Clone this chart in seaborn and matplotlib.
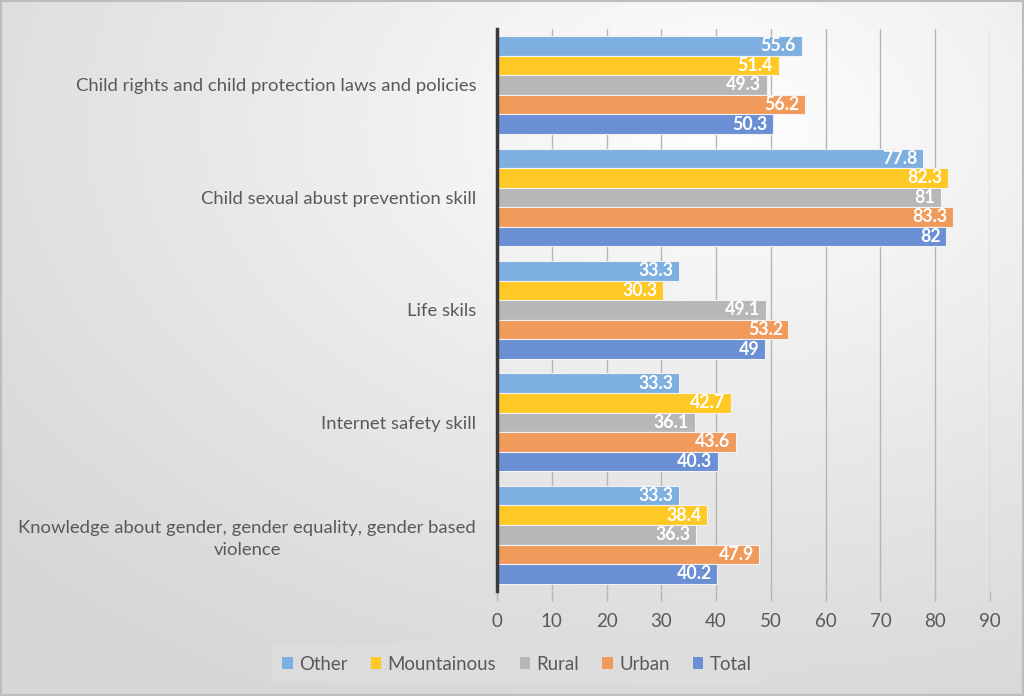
import numpy as np
import pandas as pd
import matplotlib
matplotlib.use("Agg")
import matplotlib.pyplot as plt
import seaborn as sns
from matplotlib.patches import Patch, Rectangle

categories = [
    "Child rights and child protection laws and policies",
    "Child sexual abust prevention skill",
    "Life skils",
    "Internet safety skill",
    "Knowledge about gender, gender equality, gender based\nviolence",
]
series = ["Other", "Mountainous", "Rural", "Urban", "Total"]
other = [55.6, 77.8, 33.3, 33.3, 33.3]
mountainous = [51.4, 82.3, 30.3, 42.7, 38.4]
rural = [49.3, 81, 49.1, 36.1, 36.3]
urban = [56.2, 83.3, 53.2, 43.6, 47.9]
total = [50.3, 82, 49, 40.3, 40.2]
x_ticks = [0, 10, 20, 30, 40, 50, 60, 70, 80, 90]

colors = ["#7DAFE0", "#FFC925", "#B7B7B7", "#F09A5C", "#6A8FD4"]

values = {"Other": other, "Mountainous": mountainous, "Rural": rural,
          "Urban": urban, "Total": total}
rows = []
for s in series:
    for c, v in zip(categories, values[s]):
        rows.append({"Category": c, "Series": s, "Value": v})
df = pd.DataFrame(rows)

sns.set_theme(style="white")
plt.rcParams["font.family"] = ["Lato", "DejaVu Sans"]

W, H = 1024, 696
fig = plt.figure(figsize=(W / 100, H / 100), dpi=100)

# radial gradient background
bg = fig.add_axes([0, 0, 1, 1], zorder=-10)
yy, xx = np.mgrid[0:H, 0:W]
cx, cy = 720, 120
d = np.sqrt(((xx - cx) / W) ** 2 + ((yy - cy) / H) ** 2)
d = np.clip(d / 0.95, 0, 1)
lo, hi = 1.0, 0.84
g = hi + (lo - hi) * (1 - d) ** 1.1
img = np.dstack([g, g, g])
bg.imshow(img, aspect="auto", extent=[0, 1, 0, 1], origin="upper")
bg.set_axis_off()
fig.add_artist(Rectangle((0.001, 0.001), 0.998, 0.997, transform=fig.transFigure,
                         fill=False, edgecolor="#BDBDBD", linewidth=1.5))

ax = fig.add_axes([497 / W, (H - 591) / H, (990 - 497) / W, (591 - 28.75) / H])
ax.patch.set_alpha(0)

sns.barplot(data=df, y="Category", x="Value", hue="Series", order=categories,
            hue_order=series, palette=colors, orient="h", width=0.87,
            edgecolor="#F2F2F2", linewidth=0.8, saturation=1, ax=ax, legend=False)

ax.set_xlim(0, 90)
ax.set_xticks(x_ticks)
ax.set_xlabel("")
ax.set_ylabel("")
ax.grid(axis="x", color="#B5B5B5", linewidth=1.0)
ax.set_axisbelow(True)
for sp in ["top", "right", "bottom"]:
    ax.spines[sp].set_visible(False)
ax.spines["left"].set_color("#3A3A3A")
ax.spines["left"].set_linewidth(2.5)
ax.tick_params(axis="x", length=7, width=1, color="#B5B5B5", colors="#595959",
               labelsize=13.5, pad=9, bottom=True)
ax.tick_params(axis="y", length=0, colors="#595959", labelsize=13.3, pad=15)
for t in ax.get_yticklabels():
    t.set_multialignment("center")
    t.set_linespacing(1.45)

for cont in ax.containers:
    anns = ax.bar_label(cont, fmt=lambda v: f"{v:g}", padding=-4, color="white",
                        fontsize=12.8, fontweight="bold")
    for a in anns:
        a.set_ha("right")

handles = [Patch(facecolor=c, edgecolor="none", label=s) for s, c in zip(series, colors)]
leg = fig.legend(handles=handles, loc="center", bbox_to_anchor=(517 / W, (H - 664) / H),
                 ncol=5, frameon=True, fancybox=False, fontsize=13.4,
                 handlelength=0.55, handleheight=0.55, handletextpad=0.35,
                 columnspacing=1.25, borderpad=0.55)
leg.get_frame().set_facecolor("#DEDEDE")
leg.get_frame().set_edgecolor("none")
for t in leg.get_texts():
    t.set_color("#595959")

fig.savefig("out.png", dpi=100)
